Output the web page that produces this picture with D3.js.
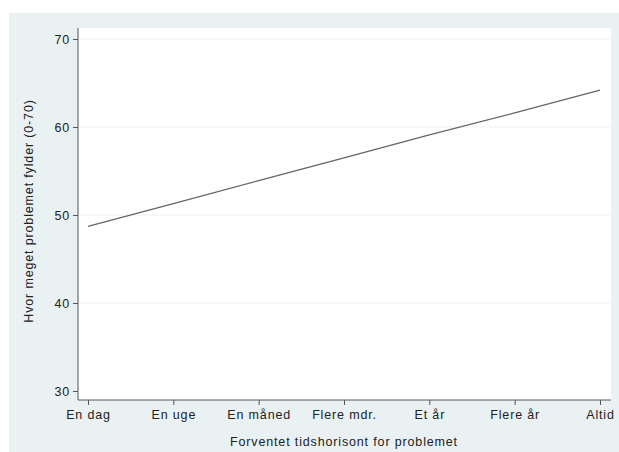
<!DOCTYPE html>
<html><head><meta charset="utf-8">
<script src="https://cdn.jsdelivr.net/npm/d3@7"></script>
<style>body{margin:0;background:#fff;} svg{display:block;font-family:"Liberation Sans",Arial,sans-serif;}</style>
</head><body>
<script>
const categories = ["En dag","En uge","En måned","Flere mdr.","Et år","Flere år","Altid"];
const values = [48.7, 51.3, 53.9, 56.5, 59.1, 61.6, 64.2];
const yTicks = [30, 40, 50, 60, 70];
const xTitle = "Forventet tidshorisont for problemet";
const yTitle = "Hvor meget problemet fylder (0-70)";

const W = 619, H = 452;
const FS = 12.5, LS = 0.85;
const svg = d3.select("body").append("svg").attr("width", W).attr("height", H);
svg.append("rect").attr("x", 9).attr("y", 13).attr("width", W - 9).attr("height", H - 13).attr("fill", "#e9f1f3");

const x0 = 78, x1 = 611, yTop = 28, yBot = 400;
svg.append("rect").attr("x", x0).attr("y", yTop).attr("width", x1 - x0).attr("height", yBot - yTop).attr("fill", "#ffffff");

const x = d3.scalePoint().domain(categories).range([88, 600]);
const y = d3.scaleLinear().domain([30, 70]).range([391, 39]);

// gridlines
svg.append("g").selectAll("line").data(yTicks.filter(d => d > 30)).join("line")
  .attr("x1", x0).attr("x2", x1).attr("y1", d => y(d)).attr("y2", d => y(d))
  .attr("stroke", "#edf2f3").attr("stroke-width", 1);

const yAxis = svg.append("g").attr("transform", `translate(${x0},0)`)
  .call(d3.axisLeft(y).tickValues(yTicks).tickSize(5).tickPadding(3));
yAxis.select(".domain").attr("d", `M0,${yTop}V${yBot}`).attr("stroke", "#555");
yAxis.selectAll(".tick line").attr("stroke", "#555");
yAxis.selectAll("text").attr("font-size", FS).attr("letter-spacing", LS).attr("fill", "#222").attr("font-family", "Liberation Sans, Arial, sans-serif");

const xAxis = svg.append("g").attr("transform", `translate(0,${yBot})`)
  .call(d3.axisBottom(x).tickSize(5).tickPadding(5));
xAxis.select(".domain").attr("d", `M${x0},0H${x1}`).attr("stroke", "#555");
xAxis.selectAll(".tick line").attr("stroke", "#555");
xAxis.selectAll("text").attr("font-size", FS).attr("letter-spacing", LS).attr("fill", "#222").attr("font-family", "Liberation Sans, Arial, sans-serif");

svg.append("path").datum(values)
  .attr("d", d3.line().x((d, i) => x(categories[i])).y(d => y(d)))
  .attr("fill", "none").attr("stroke", "#666").attr("stroke-width", 1.3);

svg.append("text").attr("x", 344).attr("y", 446).attr("text-anchor", "middle")
  .attr("font-size", FS).attr("letter-spacing", LS).attr("fill", "#222").text(xTitle);
svg.append("text").attr("transform", `translate(33,211) rotate(-90)`).attr("text-anchor", "middle")
  .attr("font-size", FS).attr("letter-spacing", LS).attr("fill", "#222").text(yTitle);
</script>
</body></html>
